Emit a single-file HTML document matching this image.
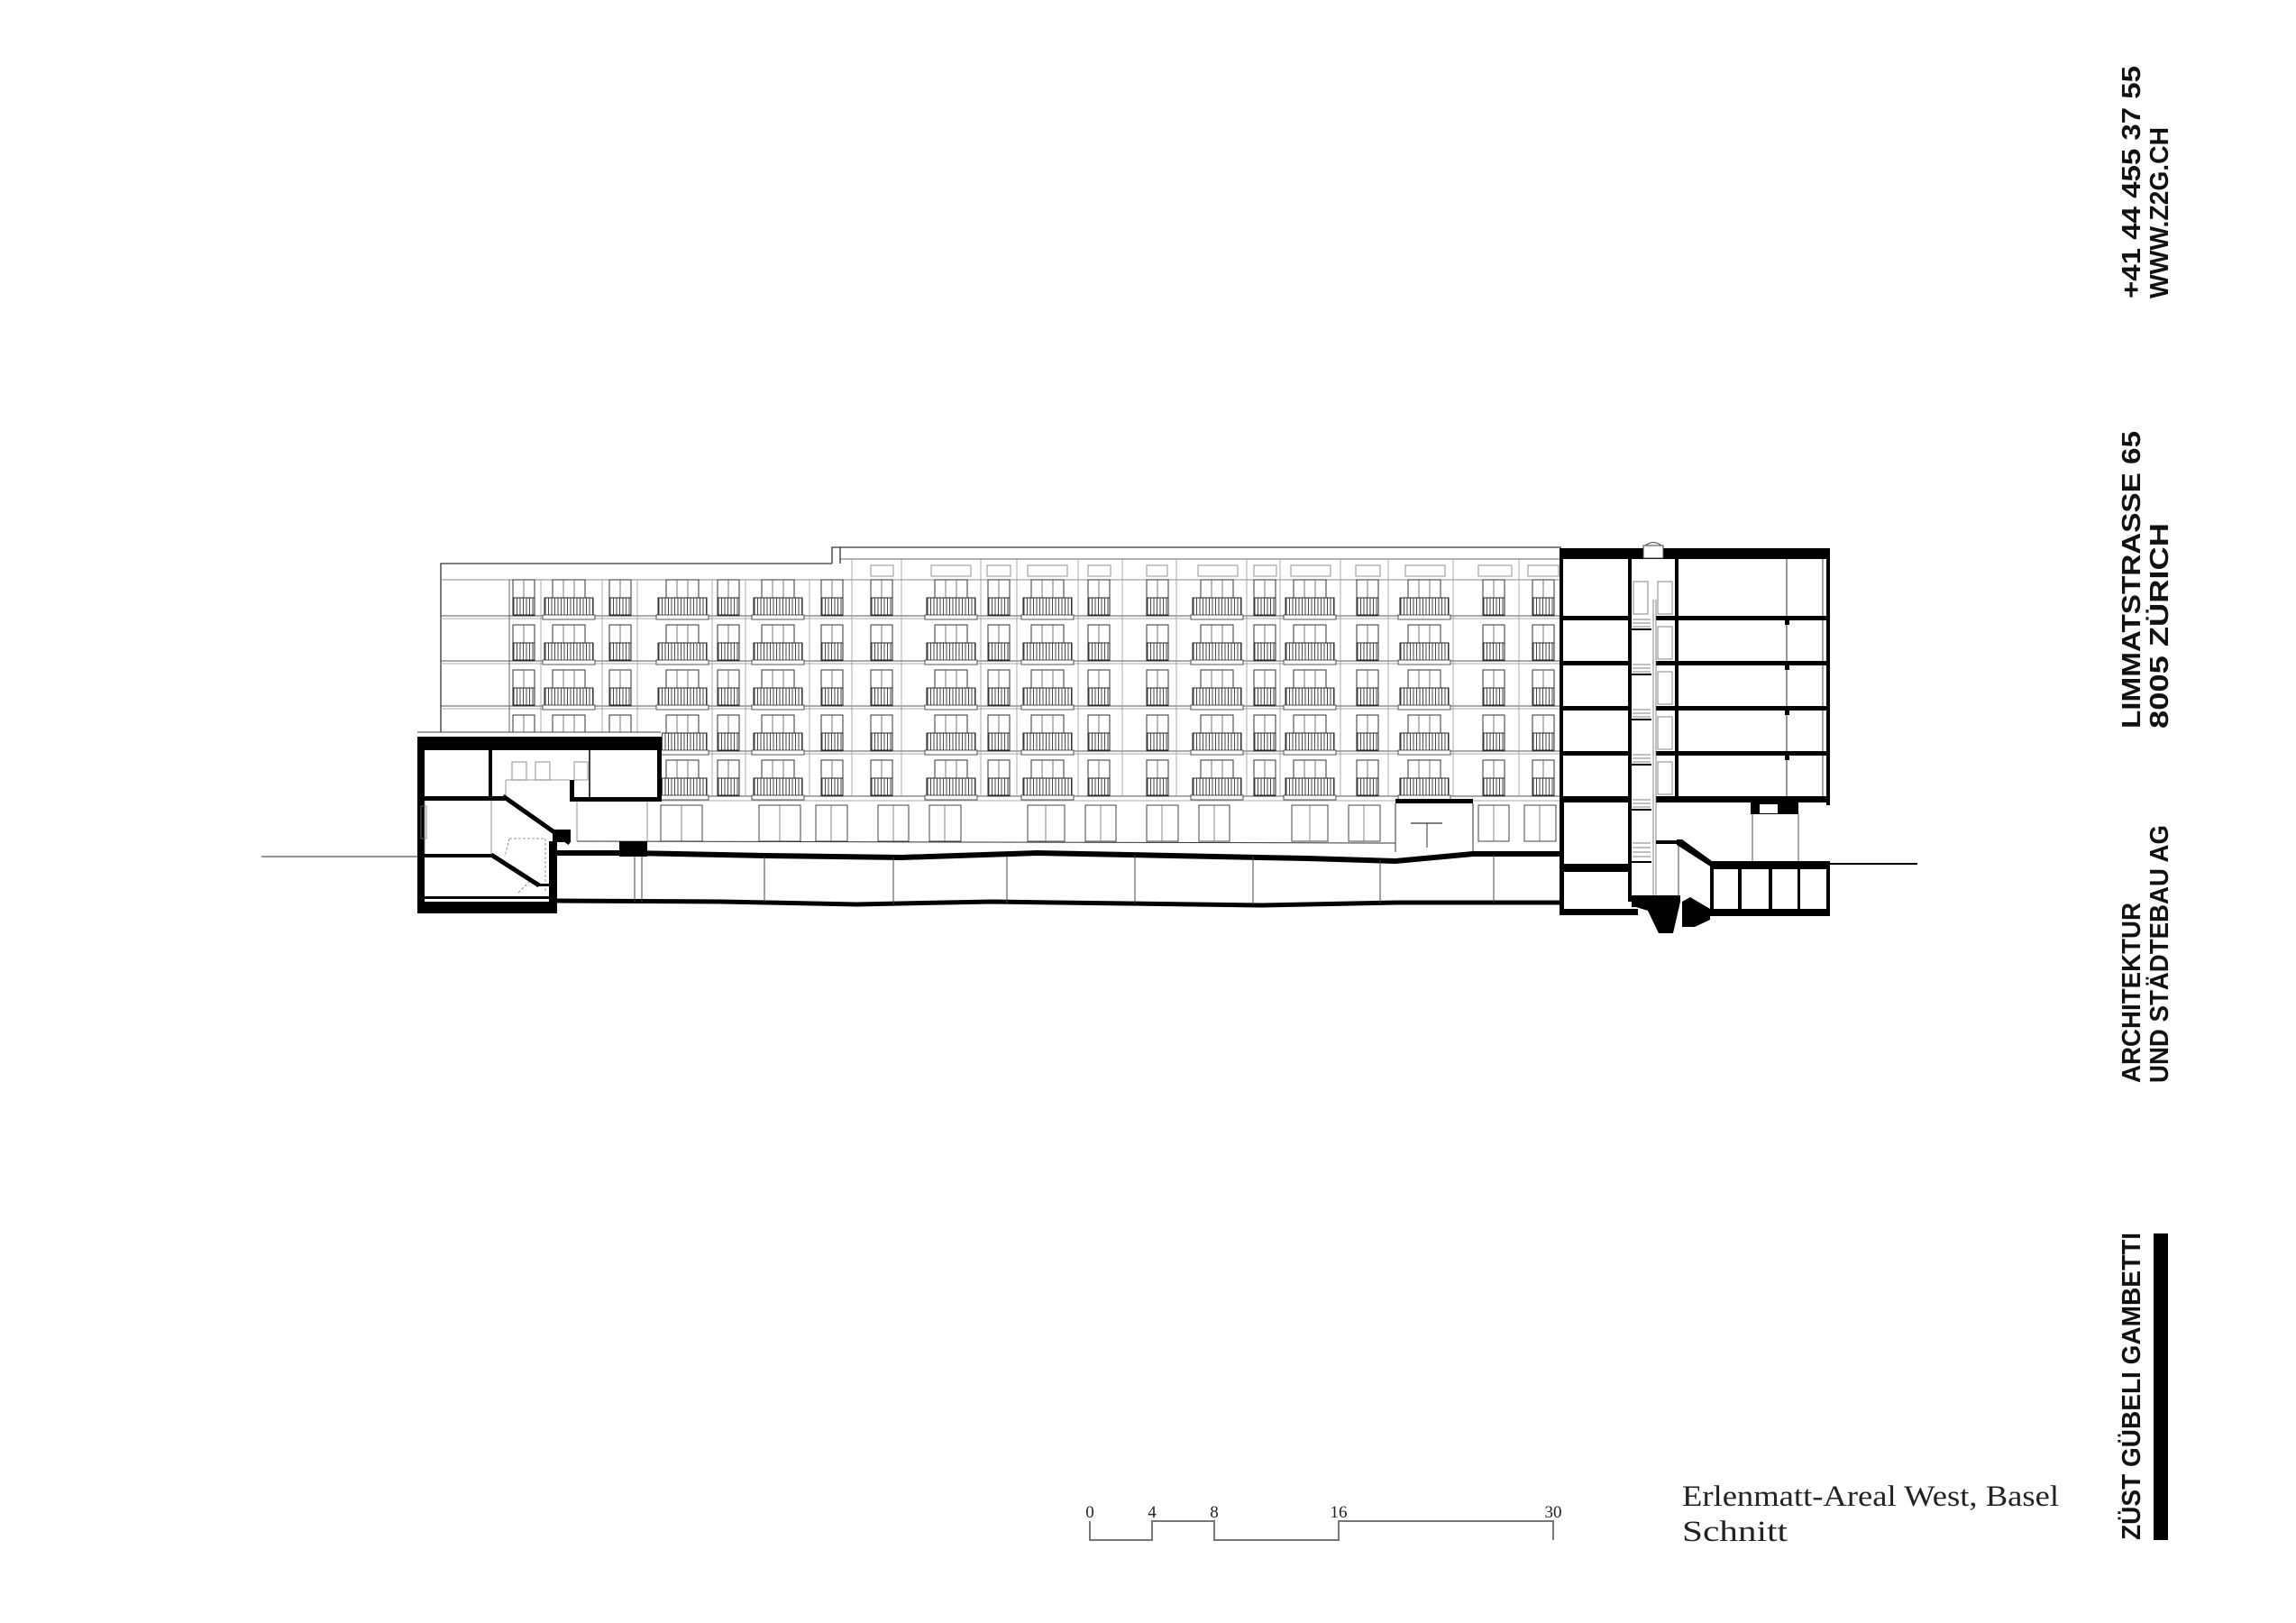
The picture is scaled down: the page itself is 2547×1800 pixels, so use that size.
<!DOCTYPE html>
<html><head><meta charset="utf-8"><style>
html,body{margin:0;padding:0;background:#fff;}
svg{display:block;}
</style></head><body>
<svg width="2547" height="1800" viewBox="0 0 2547 1800" xmlns="http://www.w3.org/2000/svg">
<defs>
<pattern id="bars" width="3.5" height="20" patternUnits="userSpaceOnUse">
<rect width="3.5" height="20" fill="#fff"/><line x1="1" y1="0" x2="1" y2="20" stroke="#333" stroke-width="0.9"/>
</pattern>
<g id="n1">
<rect x="0" y="10" width="24" height="40" fill="#fff" stroke="#333" stroke-width="1"/>
<line x1="12" y1="10" x2="12" y2="50" stroke="#555" stroke-width="0.8"/>
<rect x="0" y="30" width="24" height="19" fill="url(#bars)" stroke="#222" stroke-width="1"/>
</g>
<g id="w1">
<rect x="9" y="10" width="36" height="40" fill="#fff" stroke="#333" stroke-width="1"/>
<line x1="21" y1="10" x2="21" y2="50" stroke="#555" stroke-width="0.8"/>
<line x1="33" y1="10" x2="33" y2="50" stroke="#555" stroke-width="0.8"/>
<rect x="0" y="30" width="54" height="19" fill="url(#bars)" stroke="#222" stroke-width="1"/>
<rect x="-2" y="49" width="58" height="5" fill="#fff" stroke="#444" stroke-width="0.9"/>
</g>
<g id="N"><use href="#n1" y="0"/><use href="#n1" y="50"/><use href="#n1" y="100"/><use href="#n1" y="150"/><use href="#n1" y="200"/></g>
<g id="W"><use href="#w1" y="0"/><use href="#w1" y="50"/><use href="#w1" y="100"/><use href="#w1" y="150"/><use href="#w1" y="200"/></g>
</defs>

<g fill="none" stroke="#333" stroke-width="1.3">
<polyline points="489,933 489,625 923,625"/>
<polyline points="923,625 923,607 1732,607"/>
<line x1="932" y1="607" x2="932" y2="625"/>
<line x1="932" y1="620" x2="1732" y2="620" stroke-width="0.8"/>
</g>
<g stroke="#555" stroke-width="0.9">
<line x1="489" y1="643" x2="1732" y2="643" stroke="#888"/>
<line x1="489" y1="683" x2="1732" y2="683"/><line x1="489" y1="686" x2="1732" y2="686" stroke="#aaa"/>
<line x1="489" y1="733" x2="1732" y2="733"/><line x1="489" y1="736" x2="1732" y2="736" stroke="#aaa"/>
<line x1="489" y1="783" x2="1732" y2="783"/><line x1="489" y1="786" x2="1732" y2="786" stroke="#aaa"/>
<line x1="489" y1="833" x2="1732" y2="833"/><line x1="489" y1="836" x2="1732" y2="836" stroke="#aaa"/>
<line x1="489" y1="883" x2="1732" y2="883"/><line x1="489" y1="888" x2="1732" y2="888" stroke="#aaa"/>
<line x1="565" y1="643" x2="565" y2="883"/>
</g>
<g stroke="#999" stroke-width="0.8">
<line x1="600" y1="643" x2="600" y2="883"/><line x1="668" y1="643" x2="668" y2="883"/>
<line x1="707" y1="643" x2="707" y2="883"/><line x1="790" y1="643" x2="790" y2="883"/>
<line x1="827" y1="643" x2="827" y2="883"/><line x1="898" y1="643" x2="898" y2="883"/>
<line x1="945" y1="620" x2="945" y2="883"/><line x1="1000" y1="620" x2="1000" y2="883"/>
<line x1="1088" y1="620" x2="1088" y2="883"/><line x1="1128" y1="620" x2="1128" y2="883"/>
<line x1="1196" y1="620" x2="1196" y2="883"/><line x1="1245" y1="620" x2="1245" y2="883"/>
<line x1="1305" y1="620" x2="1305" y2="883"/><line x1="1383" y1="620" x2="1383" y2="883"/>
<line x1="1420" y1="620" x2="1420" y2="883"/><line x1="1487" y1="620" x2="1487" y2="883"/>
<line x1="1540" y1="620" x2="1540" y2="883"/><line x1="1612" y1="620" x2="1612" y2="883"/>
<line x1="1685" y1="620" x2="1685" y2="883"/>
</g>
<g fill="none" stroke="#777" stroke-width="0.8">
<rect x="966" y="627" width="25" height="12"/><rect x="1033" y="627" width="44" height="12"/>
<rect x="1095" y="627" width="26" height="12"/><rect x="1140" y="627" width="44" height="12"/>
<rect x="1207" y="627" width="25" height="12"/><rect x="1272" y="627" width="23" height="12"/>
<rect x="1329" y="627" width="44" height="12"/><rect x="1391" y="627" width="25" height="12"/>
<rect x="1432" y="627" width="44" height="12"/><rect x="1504" y="627" width="27" height="12"/>
<rect x="1559" y="627" width="44" height="12"/><rect x="1640" y="627" width="37" height="12"/>
<rect x="1695" y="627" width="34" height="12"/>
</g>
<use href="#N" x="569" y="633"/>
<use href="#W" x="604" y="633"/>
<use href="#N" x="676" y="633"/>
<use href="#W" x="730" y="633"/>
<use href="#N" x="796" y="633"/>
<use href="#W" x="836" y="633"/>
<use href="#N" x="911" y="633"/>
<use href="#N" x="966" y="633"/>
<use href="#W" x="1028" y="633"/>
<use href="#N" x="1096" y="633"/>
<use href="#W" x="1135" y="633"/>
<use href="#N" x="1207" y="633"/>
<use href="#N" x="1272" y="633"/>
<use href="#W" x="1323" y="633"/>
<use href="#N" x="1391" y="633"/>
<use href="#W" x="1426" y="633"/>
<use href="#N" x="1505" y="633"/>
<use href="#W" x="1553" y="633"/>
<use href="#N" x="1645" y="633"/>
<use href="#N" x="1700" y="633"/>

<g fill="#fff" stroke="#444" stroke-width="1">
<rect x="733" y="893" width="46" height="40"/><rect x="842" y="893" width="46" height="40"/>
<rect x="905" y="893" width="35" height="40"/><rect x="974" y="893" width="34" height="40"/>
<rect x="1031" y="893" width="35" height="40"/><rect x="1140" y="893" width="41" height="40"/>
<rect x="1204" y="893" width="34" height="40"/><rect x="1272" y="893" width="35" height="40"/>
<rect x="1330" y="893" width="34" height="40"/><rect x="1433" y="893" width="40" height="40"/>
<rect x="1496" y="893" width="35" height="40"/><rect x="1640" y="893" width="34" height="40"/>
<rect x="1691" y="893" width="35" height="40"/>
</g>
<g stroke="#666" stroke-width="0.8">
<line x1="756" y1="893" x2="756" y2="933"/><line x1="865" y1="893" x2="865" y2="933"/>
<line x1="922" y1="893" x2="922" y2="933"/><line x1="991" y1="893" x2="991" y2="933"/>
<line x1="1048" y1="893" x2="1048" y2="933"/><line x1="1160" y1="893" x2="1160" y2="933"/>
<line x1="1221" y1="893" x2="1221" y2="933"/><line x1="1289" y1="893" x2="1289" y2="933"/>
<line x1="1347" y1="893" x2="1347" y2="933"/><line x1="1453" y1="893" x2="1453" y2="933"/>
<line x1="1513" y1="893" x2="1513" y2="933"/><line x1="1657" y1="893" x2="1657" y2="933"/>
<line x1="1708" y1="893" x2="1708" y2="933"/>
</g>
<rect x="1548" y="886" width="86" height="5" fill="#000"/>
<line x1="1548" y1="891" x2="1548" y2="945" stroke="#333"/>
<line x1="1634" y1="891" x2="1634" y2="945" stroke="#333"/>
<line x1="1565" y1="913" x2="1600" y2="913" stroke="#333" stroke-width="1.2"/>
<line x1="1583" y1="913" x2="1583" y2="940" stroke="#333" stroke-width="1"/>

<!-- left low building (white backgrounds first) -->
<rect x="463" y="812" width="155" height="205" fill="#fff"/>
<rect x="618" y="812" width="116" height="78" fill="#fff"/>

<!-- garage -->
<line x1="640" y1="933" x2="1548" y2="935" stroke="#333" stroke-width="1"/>
<line x1="640" y1="889" x2="640" y2="933" stroke="#777" stroke-width="0.8"/>
<line x1="718" y1="889" x2="718" y2="933" stroke="#777" stroke-width="0.8"/>
<polyline points="618,946 700,946 850,949 1000,951 1150,946 1300,949 1450,952 1548,955 1634,947 1732,947" fill="none" stroke="#000" stroke-width="6"/>
<rect x="687" y="933" width="31" height="17" fill="#000"/>
<polyline points="618,999 800,1000 950,1003 1100,1000 1250,1002 1400,1004 1550,1001 1732,1001" fill="none" stroke="#000" stroke-width="5"/>
<g stroke="#444" stroke-width="1">
<line x1="704" y1="950" x2="704" y2="1000"/><line x1="712" y1="950" x2="712" y2="1000"/>
<line x1="848" y1="950" x2="848" y2="1001"/><line x1="991" y1="951" x2="991" y2="1003"/>
<line x1="1117" y1="950" x2="1117" y2="1001"/><line x1="1259" y1="948" x2="1259" y2="1002"/>
<line x1="1390" y1="950" x2="1390" y2="1003"/><line x1="1531" y1="954" x2="1531" y2="1002"/>
<line x1="1657" y1="948" x2="1657" y2="1001"/>
</g>

<line x1="290" y1="950" x2="463" y2="950" stroke="#555" stroke-width="1.2"/>
<line x1="463" y1="812" x2="733" y2="812" stroke="#444" stroke-width="1"/>
<rect x="463" y="817" width="271" height="15" fill="#000"/>
<rect x="463" y="817" width="8" height="196" fill="#000"/>
<rect x="729" y="817" width="5" height="70" fill="#000"/>
<rect x="542" y="832" width="4" height="53" fill="#000"/>
<rect x="463" y="883" width="97" height="5" fill="#000"/>
<rect x="632" y="884" width="102" height="5" fill="#000"/>
<rect x="632" y="865" width="5" height="24" fill="#000"/>
<line x1="654" y1="832" x2="654" y2="884" stroke="#000" stroke-width="1.5"/>
<g fill="none" stroke="#777" stroke-width="0.8">
<rect x="568" y="845" width="16" height="20"/><rect x="594" y="845" width="16" height="20"/><rect x="637" y="845" width="15" height="20"/>
<line x1="561" y1="865" x2="632" y2="865"/><line x1="561" y1="865" x2="561" y2="883"/>
<rect x="467" y="894" width="6" height="36"/>
<line x1="471" y1="888" x2="471" y2="947"/><line x1="545" y1="888" x2="545" y2="947"/>
<path d="M565,930 L605,930 L605,990 M565,930 L560,950 M575,990 L590,975" stroke-dasharray="3,2"/>
</g>
<line x1="558" y1="883" x2="632" y2="935" stroke="#000" stroke-width="5"/>
<rect x="613" y="920" width="20" height="14" fill="#000"/>
<rect x="609" y="933" width="9" height="80" fill="#000"/>
<rect x="463" y="947" width="82" height="4" fill="#000"/>
<line x1="545" y1="948" x2="598" y2="982" stroke="#000" stroke-width="5"/>
<rect x="595" y="980" width="14" height="3" fill="#000"/>
<rect x="463" y="1000" width="155" height="13" fill="#000"/>
<rect x="463" y="994" width="150" height="3" fill="#000"/>

<!-- right section building -->
<rect x="1730" y="620" width="300" height="395" fill="#fff"/>
<path d="M1823,607 Q1834,596 1845,607 Z" fill="#fff" stroke="#444" stroke-width="1"/>
<rect x="1730" y="608" width="300" height="12" fill="#000"/>
<rect x="1823" y="605" width="22" height="14" fill="#fff" stroke="#444" stroke-width="1"/>
<rect x="1730" y="608" width="4" height="285" fill="#000"/>
<rect x="1806" y="620" width="4" height="380" fill="#000"/>
<rect x="1858" y="620" width="4" height="270" fill="#000"/>
<rect x="2026" y="608" width="4" height="285" fill="#000"/>
<line x1="2022" y1="620" x2="2022" y2="883" stroke="#444" stroke-width="1"/>
<line x1="1982" y1="620" x2="1982" y2="883" stroke="#555" stroke-width="1.2"/>
<g fill="#000">
<rect x="1733" y="683" width="73" height="5"/><rect x="1837" y="683" width="193" height="5"/>
<rect x="1733" y="733" width="73" height="5"/><rect x="1837" y="733" width="193" height="5"/>
<rect x="1733" y="783" width="73" height="5"/><rect x="1837" y="783" width="193" height="5"/>
<rect x="1733" y="833" width="73" height="5"/><rect x="1837" y="833" width="193" height="5"/>
<rect x="1733" y="883" width="73" height="7"/><rect x="1837" y="883" width="193" height="7"/>
<rect x="1810" y="697" width="22" height="2"/><rect x="1810" y="747" width="22" height="2"/>
<rect x="1810" y="797" width="22" height="2"/><rect x="1810" y="847" width="22" height="2"/>
<rect x="1810" y="897" width="22" height="2"/><rect x="1810" y="955" width="22" height="2"/>
<rect x="1980" y="683" width="5" height="10"/><rect x="1980" y="733" width="5" height="10"/>
<rect x="1980" y="783" width="5" height="10"/><rect x="1980" y="833" width="5" height="10"/>
</g>
<g fill="none" stroke="#666" stroke-width="0.8">
<rect x="1812" y="645" width="16" height="36"/><rect x="1839" y="645" width="16" height="36"/>
<rect x="1839" y="695" width="16" height="36"/><rect x="1839" y="745" width="16" height="36"/>
<rect x="1839" y="795" width="16" height="36"/><rect x="1839" y="845" width="16" height="36"/>
<line x1="1834" y1="665" x2="1834" y2="1000"/><line x1="1837" y1="665" x2="1837" y2="1000"/>
</g>
<g stroke="#555" stroke-width="0.7">
<line x1="1811" y1="687" x2="1831" y2="687"/><line x1="1811" y1="691" x2="1831" y2="691"/><line x1="1811" y1="695" x2="1831" y2="695"/>
<line x1="1811" y1="737" x2="1831" y2="737"/><line x1="1811" y1="741" x2="1831" y2="741"/><line x1="1811" y1="745" x2="1831" y2="745"/>
<line x1="1811" y1="787" x2="1831" y2="787"/><line x1="1811" y1="791" x2="1831" y2="791"/><line x1="1811" y1="795" x2="1831" y2="795"/>
<line x1="1811" y1="837" x2="1831" y2="837"/><line x1="1811" y1="841" x2="1831" y2="841"/><line x1="1811" y1="845" x2="1831" y2="845"/>
<line x1="1811" y1="887" x2="1831" y2="887"/><line x1="1811" y1="891" x2="1831" y2="891"/><line x1="1811" y1="895" x2="1831" y2="895"/>
<line x1="1811" y1="935" x2="1831" y2="935"/><line x1="1811" y1="940" x2="1831" y2="940"/><line x1="1811" y1="945" x2="1831" y2="945"/><line x1="1811" y1="950" x2="1831" y2="950"/>
</g>
<rect x="1730" y="890" width="5" height="125" fill="#000"/>
<rect x="1942" y="890" width="53" height="13" fill="#000"/>
<rect x="1952" y="892" width="20" height="10" fill="#fff"/>
<line x1="1944" y1="903" x2="1944" y2="958" stroke="#555"/>
<line x1="1995" y1="903" x2="1995" y2="958" stroke="#555"/>
<rect x="1837" y="932" width="25" height="4" fill="#000"/>
<rect x="1735" y="958" width="75" height="9" fill="#000"/>
<rect x="1730" y="1008" width="87" height="7" fill="#000"/>
<polygon points="1810,993 1864,993 1864,1000 1856,1035 1840,1035 1828,1010 1815,1006 1810,1006" fill="#000"/>
<line x1="1862" y1="933" x2="1862" y2="995" stroke="#444" stroke-width="1"/>
<polygon points="1860,931 1866,931 1899,955 1899,962 1860,937" fill="#000"/>
<rect x="1897" y="955" width="133" height="9" fill="#000"/>
<rect x="1897" y="1008" width="133" height="8" fill="#000"/>
<rect x="1897" y="958" width="4" height="56" fill="#000"/>
<rect x="2026" y="958" width="4" height="56" fill="#000"/>
<rect x="1928" y="963" width="4" height="45" fill="#000"/>
<rect x="1962" y="963" width="4" height="45" fill="#000"/>
<rect x="1994" y="963" width="3" height="45" fill="#000"/>
<polygon points="1866,1000 1875,995 1897,1008 1897,1020 1880,1028 1866,1028" fill="#000"/>
<line x1="2030" y1="958" x2="2127" y2="958" stroke="#000" stroke-width="2"/>

<polyline points="1209,1687 1209,1708 1278,1708 1278,1687 1347,1687 1347,1708 1485,1708 1485,1687 1723,1687 1723,1708" fill="none" stroke="#777" stroke-width="2"/>
<g font-family="Liberation Serif, serif" font-size="19" fill="#222" text-anchor="middle">
<text x="1209" y="1683">0</text><text x="1278" y="1683">4</text><text x="1347" y="1683">8</text><text x="1485" y="1683">16</text><text x="1723" y="1683">30</text>
</g>
<g font-family="Liberation Serif, serif" font-size="33" fill="#222">
<text x="1866" y="1670" textLength="418" lengthAdjust="spacingAndGlyphs">Erlenmatt-Areal West, Basel</text>
<text x="1866" y="1709" textLength="117" lengthAdjust="spacingAndGlyphs">Schnitt</text>
</g>

<g font-family="Liberation Sans, sans-serif" font-weight="bold" font-size="29" fill="#111">
<text transform="translate(2374,331) rotate(-90)" textLength="258" lengthAdjust="spacingAndGlyphs">+41 44 455 37 55</text>
<text transform="translate(2405,331) rotate(-90)" textLength="190" lengthAdjust="spacingAndGlyphs">WWW.Z2G.CH</text>
<text transform="translate(2374,808) rotate(-90)" textLength="330" lengthAdjust="spacingAndGlyphs">LIMMATSTRASSE 65</text>
<text transform="translate(2405,808) rotate(-90)" textLength="228" lengthAdjust="spacingAndGlyphs">8005 ZÜRICH</text>
<text transform="translate(2374,1201) rotate(-90)" textLength="200" lengthAdjust="spacingAndGlyphs">ARCHITEKTUR</text>
<text transform="translate(2405,1201) rotate(-90)" textLength="286" lengthAdjust="spacingAndGlyphs">UND STÄDTEBAU AG</text>
<text transform="translate(2374,1708) rotate(-90)" textLength="341" lengthAdjust="spacingAndGlyphs">ZÜST GÜBELI GAMBETTI</text>
</g>
<rect x="2389" y="1368" width="16" height="340" fill="#000"/>
</svg>
</body></html>
